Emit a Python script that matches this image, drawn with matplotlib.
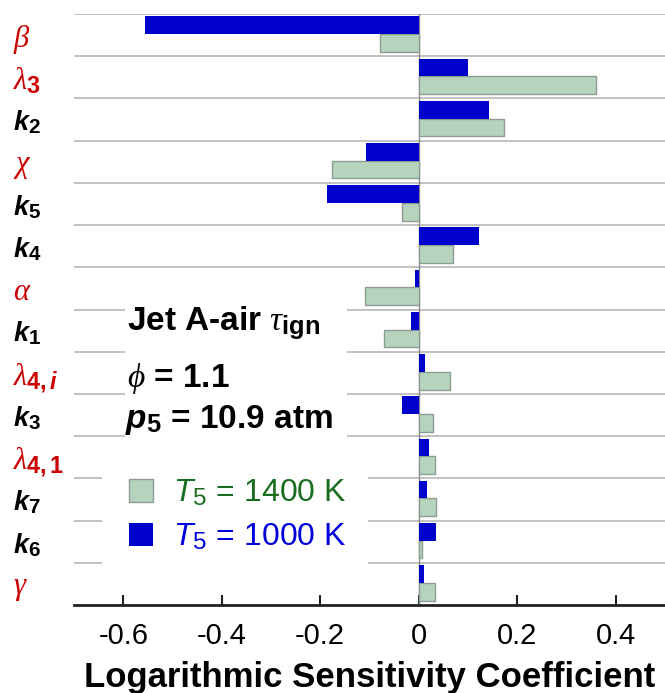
import numpy as np
import matplotlib
matplotlib.use('Agg')
import matplotlib.pyplot as plt
import matplotlib._mathtext as mathtext_internals
from matplotlib.patches import Rectangle

# Sensitivity coefficients, top row first
labels = [
    r'$\beta$',
    r'$\lambda_\mathbf{3}$',
    r'$\mathbfit{k}_\mathbf{2}$',
    r'$\chi$',
    r'$\mathbfit{k}_\mathbf{5}$',
    r'$\mathbfit{k}_\mathbf{4}$',
    r'$\alpha$',
    r'$\mathbfit{k}_\mathbf{1}$',
    r'$\lambda_{\mathbf{4,}\mathbfit{i}}$',
    r'$\mathbfit{k}_\mathbf{3}$',
    r'$\lambda_\mathbf{4,1}$',
    r'$\mathbfit{k}_\mathbf{7}$',
    r'$\mathbfit{k}_\mathbf{6}$',
    r'$\gamma$',
]
label_is_param = [True, True, False, True, False, False, True,
                  False, True, False, True, False, False, True]
sens_1000K = [-0.556, 0.100, 0.143, -0.108, -0.186, 0.122, -0.007,
              -0.015, 0.0135, -0.033, 0.0216, 0.016, 0.035, 0.010]
sens_1400K = [-0.079, 0.360, 0.174, -0.176, -0.034, 0.070, -0.110,
              -0.070, 0.064, 0.029, 0.0325, 0.036, 0.0075, 0.0325]
xticks = [-0.6, -0.4, -0.2, 0, 0.2, 0.4]
xtick_labels = ['-0.6', '-0.4', '-0.2', '0', '0.2', '0.4']

# subscripts in the original are a bit larger than mathtext's default
mathtext_internals.SHRINK_FACTOR = 0.76

plt.rcParams['font.family'] = ['Liberation Sans', 'DejaVu Sans']
plt.rcParams['mathtext.fontset'] = 'custom'
plt.rcParams['mathtext.rm'] = 'Liberation Sans'
plt.rcParams['mathtext.it'] = 'Liberation Serif:italic'
plt.rcParams['mathtext.bf'] = 'Liberation Sans:bold'
plt.rcParams['mathtext.bfit'] = 'Liberation Sans:bold:italic'
plt.rcParams['mathtext.sf'] = 'Liberation Sans:italic'

W, H = 665, 693
fig = plt.figure(figsize=(W / 100, H / 100), dpi=100)
ax = fig.add_axes([74 / W, (H - 605) / H, 1 - 74 / W, (605 - 14) / H])

y = np.arange(len(labels))
bh = 0.42
green = ax.barh(y + 0.186, sens_1400K, height=bh, color='#b5d3bd',
                edgecolor='#8d9c90', linewidth=1, zorder=3,
                label=r'$\mathsf{T}_\mathrm{5}$ = 1400 K')
blue = ax.barh(y - 0.234, sens_1000K, height=bh, color='#0000cc',
               linewidth=0, zorder=3,
               label=r'$\mathsf{T}_\mathrm{5}$ = 1000 K')

ax.set_ylim(len(labels) - 0.5, -0.5)
ax.set_xlim(-0.7, 0.5)

# row separators and zero line
for yy in np.arange(-0.5, len(labels) - 1, 1.0):
    ax.axhline(yy, color='#b8b8b8', lw=1.2, zorder=1)
ax.axvline(0, color='#8a8a8a', lw=1, zorder=2)

for s in ['top', 'right', 'left']:
    ax.spines[s].set_visible(False)
ax.spines['bottom'].set_linewidth(2)
ax.spines['bottom'].set_color('#222222')

ax.set_xticks(xticks, xtick_labels)
ax.tick_params(axis='x', direction='in', length=7, width=1.5,
               color='#222222', labelsize=21, pad=12)
ax.set_yticks(y, labels)
ax.tick_params(axis='y', length=0, pad=44)
for lab, is_param in zip(ax.get_yticklabels(), label_is_param):
    lab.set_horizontalalignment('left')
    if is_param:
        lab.set_color('#cc0000')
        lab.set_fontsize(22)
    else:
        lab.set_color('black')
        lab.set_fontsize(19.5)

ax.set_xlabel('Logarithmic Sensitivity Coefficient', fontsize=25,
              fontweight='bold', labelpad=8)

# white boxes behind the annotation and the legend
fig.patches.append(Rectangle((125 / W, (H - 450) / H), 222 / W, 172 / H,
                             transform=fig.transFigure, facecolor='white',
                             edgecolor='none', zorder=1.5))
fig.patches.append(Rectangle((102 / W, (H - 595) / H), 266 / W, 143 / H,
                             transform=fig.transFigure, facecolor='white',
                             edgecolor='none', zorder=1.5))

fig.text(127 / W, 1 - 330 / H, r'Jet A-air $\tau_\mathbf{ign}$',
         fontsize=24, fontweight='bold', va='baseline')
fig.text(127 / W, 1 - 387 / H, r'$\phi$ = 1.1',
         fontsize=24, fontweight='bold', va='baseline')
fig.text(125 / W, 1 - 428 / H, r'$\mathbfit{p}_\mathbf{5}$ = 10.9 atm',
         fontsize=24, fontweight='bold', va='baseline')

leg = fig.legend(handles=[green, blue], loc='upper left',
                 bbox_to_anchor=(129 / W, 1 - 478 / H), frameon=False,
                 fontsize=23, handlelength=0.75, handleheight=0.75,
                 handletextpad=0.62, borderpad=0, borderaxespad=0,
                 labelspacing=0.42)
for t, c in zip(leg.get_texts(), ['#1a6e1f', '#0000dd']):
    t.set_color(c)

fig.savefig('out.png', dpi=100)
